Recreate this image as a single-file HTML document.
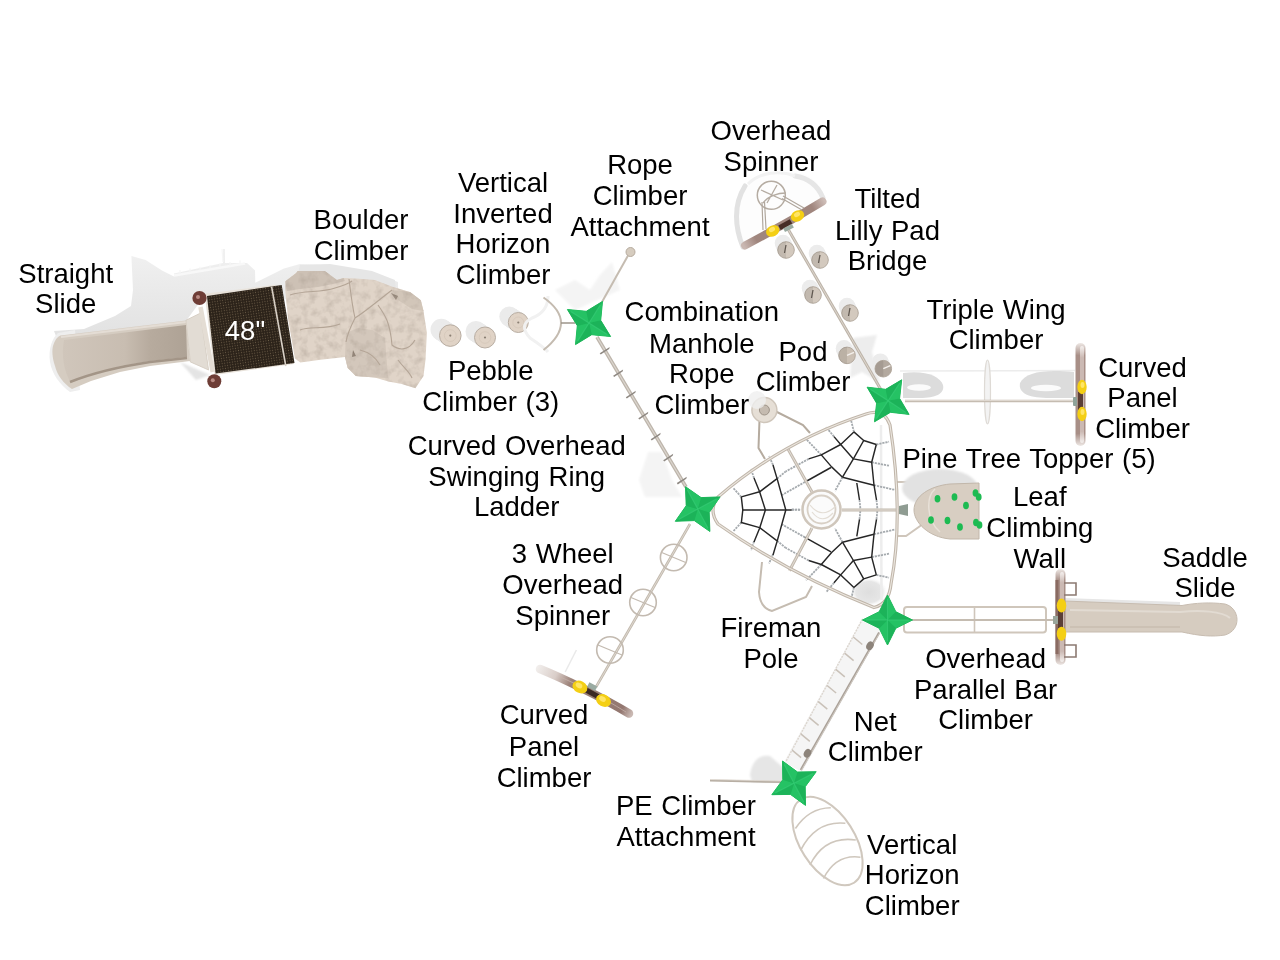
<!DOCTYPE html>
<html><head><meta charset="utf-8"><title>Playground Plan</title>
<style>html,body{margin:0;padding:0;background:#fff;width:1280px;height:960px;overflow:hidden;font-family:"Liberation Sans",sans-serif}svg{display:block;will-change:transform}</style>
</head><body>
<svg width="1280" height="960" viewBox="0 0 1280 960" font-family="Liberation Sans, sans-serif"><defs><linearGradient id="shg" x1="0" y1="0" x2="0" y2="1"><stop offset="0" stop-color="#f1f1f1"/><stop offset="1" stop-color="#e2e2e2"/></linearGradient><linearGradient id="chg" x1="0" y1="0" x2="1" y2="0"><stop offset="0" stop-color="#d0c6bb"/><stop offset="0.5" stop-color="#c8bdb1"/><stop offset="0.7" stop-color="#b7ab9e"/><stop offset="1" stop-color="#aea295"/></linearGradient><linearGradient id="dotg" x1="0" y1="0" x2="1" y2="1"><stop offset="0" stop-color="#2e251b"/><stop offset="0.5" stop-color="#3a2f22"/><stop offset="1" stop-color="#2a2118"/></linearGradient><pattern id="dots" width="2.6" height="2.6" patternUnits="userSpaceOnUse" patternTransform="rotate(-9)"><rect width="2.6" height="2.6" fill="#2b2219"/><circle cx="1.3" cy="1.3" r="0.55" fill="#6b5c47"/></pattern><filter id="sb" x="-20%" y="-20%" width="140%" height="140%"><feGaussianBlur stdDeviation="1.2"/></filter><filter id="stone" x="0" y="0" width="1" height="1"><feTurbulence type="fractalNoise" baseFrequency="0.12" numOctaves="3" seed="4" result="n"/><feColorMatrix in="n" type="matrix" values="0 0 0 0 0.45  0 0 0 0 0.38  0 0 0 0 0.32  0 0 0 -1.3 0.75" result="c"/><feComposite in="c" in2="SourceGraphic" operator="in" result="t"/><feMerge><feMergeNode in="SourceGraphic"/><feMergeNode in="t"/></feMerge></filter></defs><path d="M56,336 L54,331 L84,329 L115,316 L131,306 L133,290 L131.4,256 L145.6,260 L162,270.5 L174,276.6 L174,273.5 L223,263 L223,249 L225,249 L225,263 L247,263 L255,270.5 L255.3,282.7 L284,268.4 L300,264 L330,265 L372,272 L398,282 L398,300 L300,300 L205,295 L186,321 L60,336Z" fill="url(#shg)"/><path d="M174,275.5 L245,263.4" stroke="#f8f8f8" stroke-width="2.5" fill="none"/><path d="M180,274 L180,270 M190,272.5 L190,268.5 M200,270.8 L200,266.8 M210,269 L210,265 M220,267.5 L220,263.5 M230,266 L230,262 M240,264.3 L240,260.3 M223,262 L222,249" stroke="#f6f6f6" stroke-width="1.2" fill="none"/><path d="M180,362 L210,375 L196,380Z" fill="#e4e4e4" filter="url(#sb)"/><path d="M58,333 C52,338 48,350 50,362 C52,374 60,385 70,392 L80,390 L75,330Z" fill="#eeeeee"/><path d="M60.3,335.5 L186,320.4 L190,361 L150,366 L120,372 L91,381 L72,389 C64,384 57,375 55,366 C52,357 52,350 53,346 C55,340 57,337 60.3,335.5Z" fill="#d5ccc1"/><path d="M64,340 L186,325 L187,357 L150,361 L120,366 L91,375 L71,383 C64,372 61,355 64,340Z" fill="url(#chg)"/><path d="M70,382 C85,376 110,368 150,362 L187,358" fill="none" stroke="#a39587" stroke-width="2.5"/><path d="M61,337 L186,322" fill="none" stroke="#e4ddd5" stroke-width="2"/><path d="M186,320.2 L200.5,313.1 L208.6,370 L190.3,361.9Z" fill="#e2dcd4" stroke="#d2c9be" stroke-width="0.8"/><path d="M204.5,293.8 L275.6,284.7 L294,363.9 L214.7,375.1Z" fill="#e8e2da"/><path d="M207,296 L281.7,285 L294.5,363 L215.5,373.5Z" fill="url(#dots)"/><line x1="271.6" y1="286.7" x2="285.8" y2="366" stroke="#d8d0c6" stroke-width="1.6"/><line x1="200.5" y1="307" x2="212.7" y2="372" stroke="#e4ddd4" stroke-width="4.5"/><circle cx="199.5" cy="298" r="7.1" fill="#6e3d36"/><circle cx="198" cy="297" r="2" fill="#b98b83"/><circle cx="214.3" cy="381.2" r="7" fill="#6e3d36"/><circle cx="212.8" cy="380.2" r="2" fill="#b98b83"/><text x="245.0" y="339.6" font-size="27.5" fill="#fff" text-anchor="middle" word-spacing="1">48"</text><path d="M297,278 L300,265 L330,264 L372,271 L395,280 L396,292 L300,292Z" fill="#e6e6e6"/><g filter="url(#stone)"><path d="M285.4,281.2 L296.2,273.1 L297.6,271.1 L324.7,271.1 L336.9,279.9 L343.6,277.9 L355.8,278.5 L374.8,279.9 L392.4,286.7 L410,292 L420.8,300.2 L423.5,311 L426.9,332.7 L425.5,359.8 L423.5,376 L415.4,388.2 L401.8,384.1 L388.3,381.4 L374.8,377.4 L355.8,376 L347.7,367.9 L345,357 L320.6,359.8 L300.3,362.5 L294.9,358.4 L288.1,319.1 L285.4,292Z" fill="#e0d4c8"/><path d="M285.4,281.2 L296.2,273.1 L297.6,271.1 L324.7,271.1 L336.9,279.9 L343.6,277.9 L345,281 L333,284 L318,287 L300,289 L287,291Z" fill="#cdc1b5"/><path d="M346,333 L358,328 L372,330 L385,338 L388,378 L374.8,377.4 L355.8,376 L347.7,367.9 L345,357Z" fill="#d3c7bb"/><path d="M392,290 L410,292 L420.8,300.2 L423.5,311 L412,309 L398,300Z" fill="#d2c6b9"/><path d="M290,295 C305,290 320,293 335,288 C342,286 348,284 352,281 M349,279 C351,295 352,305 355,318 C350,328 347,335 346,342 M355,318 C365,312 375,303 392,290 M378,305 C385,315 390,322 392,345 C398,350 408,352 415,340 M300,330 C310,326 325,330 340,324 M398,360 C403,367 410,372 412,378 M360,350 C368,352 375,356 380,365" fill="none" stroke="#b4a596" stroke-width="1.1"/><path d="M391,293 L398,296 L396,300Z M353,350 L356,356 L352,357Z" fill="#8a7d70"/></g><circle cx="441.3" cy="329.6" r="10.8" fill="#ebebeb"/><circle cx="442.6" cy="330.5" r="10.8" fill="#ebebeb"/><circle cx="443.9" cy="331.3" r="10.8" fill="#ebebeb"/><circle cx="445.2" cy="332.2" r="10.8" fill="#ebebeb"/><circle cx="446.4" cy="333.0" r="10.8" fill="#ebebeb"/><circle cx="447.7" cy="333.9" r="10.8" fill="#ebebeb"/><circle cx="449.0" cy="334.7" r="10.8" fill="#ebebeb"/><circle cx="450.3" cy="335.6" r="10.8" fill="#e0d3c6" stroke="#b8ada2" stroke-width="1"/><circle cx="450.3" cy="335.6" r="5.9" fill="none" stroke="#d4c7b9" stroke-width="0.8"/><circle cx="450.3" cy="335.6" r="1.1" fill="#8a7f73"/><circle cx="476.0" cy="331.5" r="10.5" fill="#ebebeb"/><circle cx="477.3" cy="332.4" r="10.5" fill="#ebebeb"/><circle cx="478.6" cy="333.2" r="10.5" fill="#ebebeb"/><circle cx="479.9" cy="334.1" r="10.5" fill="#ebebeb"/><circle cx="481.1" cy="334.9" r="10.5" fill="#ebebeb"/><circle cx="482.4" cy="335.8" r="10.5" fill="#ebebeb"/><circle cx="483.7" cy="336.6" r="10.5" fill="#ebebeb"/><circle cx="485.0" cy="337.5" r="10.5" fill="#e0d3c6" stroke="#b8ada2" stroke-width="1"/><circle cx="485.0" cy="337.5" r="5.8" fill="none" stroke="#d4c7b9" stroke-width="0.8"/><circle cx="485.0" cy="337.5" r="1.1" fill="#8a7f73"/><circle cx="509.3" cy="316.5" r="10.0" fill="#ebebeb"/><circle cx="510.6" cy="317.4" r="10.0" fill="#ebebeb"/><circle cx="511.9" cy="318.2" r="10.0" fill="#ebebeb"/><circle cx="513.2" cy="319.1" r="10.0" fill="#ebebeb"/><circle cx="514.4" cy="319.9" r="10.0" fill="#ebebeb"/><circle cx="515.7" cy="320.8" r="10.0" fill="#ebebeb"/><circle cx="517.0" cy="321.6" r="10.0" fill="#ebebeb"/><circle cx="518.3" cy="322.5" r="10.0" fill="#e0d3c6" stroke="#b8ada2" stroke-width="1"/><circle cx="518.3" cy="322.5" r="5.5" fill="none" stroke="#d4c7b9" stroke-width="0.8"/><circle cx="518.3" cy="322.5" r="1.1" fill="#8a7f73"/><path d="M548,296 Q548,312 532,318 Q518,325 530,338 Q545,348 548,352" fill="none" stroke="#f1f1f1" stroke-width="3"/><path d="M543.5,297.5 Q578.5,322 543.5,350" fill="none" stroke="#c4bbb0" stroke-width="2"/><path d="M555,290 L575,280 L590,290 L600,275 L612,262 L620,290 L575,310Z" fill="#f4f4f4" filter="url(#sb)"/><line x1="561" y1="323" x2="575" y2="323" stroke="#9d948a" stroke-width="1.5"/><line x1="602" y1="302" x2="630" y2="252" stroke="#c5bcb1" stroke-width="2"/><circle cx="630.5" cy="252" r="4.5" fill="#d6ccbf" stroke="#b5aa9d"/><path d="M648,452 L662,452 L672,480 L682,497 L645,497 L639,480Z" fill="#f4f4f4" filter="url(#sb)"/><line x1="597" y1="337" x2="686" y2="487" stroke="#bdb5ab" stroke-width="3.6"/><line x1="597" y1="337" x2="686" y2="487" stroke="#dcd6cf" stroke-width="1.2"/><path d="M599.7,353.2 L609.7,346.9 L609.2,348.9 L600.7,354.6 Z" fill="#8e8882"/><path d="M613.1,375.8 L623.1,369.4 L622.6,371.4 L614.1,377.1 Z" fill="#8e8882"/><path d="M625.8,397.2 L635.8,390.8 L635.3,392.8 L626.8,398.5 Z" fill="#8e8882"/><path d="M638.3,418.2 L648.3,411.8 L647.8,413.8 L639.3,419.5 Z" fill="#8e8882"/><path d="M650.7,439.2 L660.7,432.8 L660.2,434.8 L651.7,440.5 Z" fill="#8e8882"/><path d="M663.2,460.2 L673.2,453.8 L672.7,455.8 L664.2,461.5 Z" fill="#8e8882"/><path d="M676.8,483.1 L686.8,476.8 L686.3,478.8 L677.8,484.4 Z" fill="#8e8882"/><path d="M742,246 C734,225 734,200 748,184 C760,172 790,168 808,176 C818,182 824,190 824,199" fill="#fdfdfd"/><path d="M743,247 C735,228 733,205 745,186" fill="none" stroke="#e2e2e2" stroke-width="5" stroke-linecap="round"/><path d="M795,176 C808,178 818,186 823,198" fill="none" stroke="#e6e6e6" stroke-width="5" stroke-linecap="round"/><path d="M748,184 C760,172 780,170 795,176" fill="none" stroke="#f2f2f2" stroke-width="3"/><defs><linearGradient id="bandT" gradientUnits="userSpaceOnUse" x1="744" y1="246" x2="824" y2="200"><stop offset="0" stop-color="#c9b7b1"/><stop offset="0.15" stop-color="#a0867e"/><stop offset="0.85" stop-color="#a0867e"/><stop offset="1" stop-color="#cdbcb6"/></linearGradient></defs><path d="M745,245.5 Q784,225 822.5,201.5" fill="none" stroke="url(#bandT)" stroke-width="8" stroke-linecap="round"/><path d="M779.5,227.8 L791,221.4" stroke="#462d26" stroke-width="5"/><circle cx="771.3" cy="195.3" r="14" fill="none" stroke="#b5aca2" stroke-width="1.5"/><path d="M761,190 L783,200 M777,185 L767,203 M763,203 C768,196 778,193 786,193" fill="none" stroke="#b5aca2" stroke-width="1.3"/><path d="M762,202 L763,230 M764.5,202 L766,229 M783,196 L804,208 M782,198.5 L802,210" fill="none" stroke="#b0a79d" stroke-width="1.2"/><ellipse cx="772.7" cy="231" rx="7" ry="5.5" fill="#f4cf14" transform="rotate(-28 772.7 231)"/><ellipse cx="797.5" cy="216" rx="7" ry="5.5" fill="#f4cf14" transform="rotate(-28 797.5 216)"/><ellipse cx="772" cy="229.5" rx="3.2" ry="2.3" fill="#ffe566" transform="rotate(-28 772 229.5)"/><ellipse cx="797" cy="214.5" rx="3.2" ry="2.3" fill="#ffe566" transform="rotate(-28 797 214.5)"/><path d="M853,338 L877,335 L872,352 L880,383 L862,372 L850,378Z" fill="#ededed" filter="url(#sb)"/><circle cx="783.0" cy="243.0" r="8.3" fill="#ececec"/><circle cx="783.6" cy="244.4" r="8.3" fill="#ececec"/><circle cx="784.2" cy="245.8" r="8.3" fill="#ececec"/><circle cx="784.8" cy="247.2" r="8.3" fill="#ececec"/><circle cx="785.4" cy="248.6" r="8.3" fill="#ececec"/><circle cx="786.0" cy="250.0" r="8.3" fill="#d3c9be" stroke="#b3a99e" stroke-width="1"/><path d="M786.0,241.7 A8.3,8.3 0 0,0 786.0,258.3 Z" fill="#000" opacity="0.08"/><line x1="786.0" y1="245.0" x2="784.5" y2="253.0" stroke="#5f574f" stroke-width="1.3"/><circle cx="817.0" cy="253.0" r="8.3" fill="#ececec"/><circle cx="817.6" cy="254.4" r="8.3" fill="#ececec"/><circle cx="818.2" cy="255.8" r="8.3" fill="#ececec"/><circle cx="818.8" cy="257.2" r="8.3" fill="#ececec"/><circle cx="819.4" cy="258.6" r="8.3" fill="#ececec"/><circle cx="820.0" cy="260.0" r="8.3" fill="#d3c9be" stroke="#b3a99e" stroke-width="1"/><path d="M820.0,251.7 A8.3,8.3 0 0,0 820.0,268.3 Z" fill="#000" opacity="0.08"/><line x1="820.0" y1="255.0" x2="818.5" y2="263.0" stroke="#5f574f" stroke-width="1.3"/><circle cx="810.0" cy="288.0" r="8.3" fill="#ececec"/><circle cx="810.6" cy="289.4" r="8.3" fill="#ececec"/><circle cx="811.2" cy="290.8" r="8.3" fill="#ececec"/><circle cx="811.8" cy="292.2" r="8.3" fill="#ececec"/><circle cx="812.4" cy="293.6" r="8.3" fill="#ececec"/><circle cx="813.0" cy="295.0" r="8.3" fill="#d3c9be" stroke="#b3a99e" stroke-width="1"/><path d="M813.0,286.7 A8.3,8.3 0 0,0 813.0,303.3 Z" fill="#000" opacity="0.08"/><line x1="813.0" y1="290.0" x2="811.5" y2="298.0" stroke="#5f574f" stroke-width="1.3"/><circle cx="847.0" cy="306.0" r="8.3" fill="#ececec"/><circle cx="847.6" cy="307.4" r="8.3" fill="#ececec"/><circle cx="848.2" cy="308.8" r="8.3" fill="#ececec"/><circle cx="848.8" cy="310.2" r="8.3" fill="#ececec"/><circle cx="849.4" cy="311.6" r="8.3" fill="#ececec"/><circle cx="850.0" cy="313.0" r="8.3" fill="#d3c9be" stroke="#b3a99e" stroke-width="1"/><path d="M850.0,304.7 A8.3,8.3 0 0,0 850.0,321.3 Z" fill="#000" opacity="0.08"/><line x1="850.0" y1="308.0" x2="848.5" y2="316.0" stroke="#5f574f" stroke-width="1.3"/><circle cx="844.0" cy="348.4" r="8.3" fill="#ececec"/><circle cx="844.6" cy="349.8" r="8.3" fill="#ececec"/><circle cx="845.2" cy="351.2" r="8.3" fill="#ececec"/><circle cx="845.8" cy="352.6" r="8.3" fill="#ececec"/><circle cx="846.4" cy="354.0" r="8.3" fill="#ececec"/><circle cx="847.0" cy="355.4" r="8.3" fill="#cbc0b4" stroke="#b3a99e" stroke-width="1"/><path d="M847.0,347.1 A8.3,8.3 0 0,0 847.0,363.7 Z" fill="#000" opacity="0.08"/><line x1="847.0" y1="355.4" x2="854.0" y2="352.4" stroke="#f4f0ec" stroke-width="1.4"/><circle cx="880.3" cy="361.7" r="8.3" fill="#ececec"/><circle cx="880.9" cy="363.1" r="8.3" fill="#ececec"/><circle cx="881.5" cy="364.5" r="8.3" fill="#ececec"/><circle cx="882.1" cy="365.9" r="8.3" fill="#ececec"/><circle cx="882.7" cy="367.3" r="8.3" fill="#ececec"/><circle cx="883.3" cy="368.7" r="8.3" fill="#b3a99f" stroke="#b3a99e" stroke-width="1"/><path d="M883.3,360.4 A8.3,8.3 0 0,0 883.3,377.0 Z" fill="#000" opacity="0.08"/><line x1="883.3" y1="368.7" x2="890.3" y2="365.7" stroke="#f4f0ec" stroke-width="1.4"/><line x1="788" y1="229" x2="884" y2="395" stroke="#bdb4a9" stroke-width="3"/><line x1="788" y1="229" x2="884" y2="395" stroke="#ddd6cd" stroke-width="1"/><rect x="783.5" y="226" width="10" height="4" fill="#9aaba2" transform="rotate(-28 788.5 228)"/><path d="M900,371 L1075,370.5" stroke="#ececec" stroke-width="1.5"/><path d="M903,373 C925,370 940,376 943,385 C945,394 935,398 920,398 L903,398 Z" fill="#dcdcdc"/><ellipse cx="919" cy="387.5" rx="12" ry="3.3" fill="#fbfbfb"/><path d="M1074,372 C1045,369 1025,372 1020,383 C1018,394 1030,398 1050,398 L1074,398 Z" fill="#dcdcdc"/><ellipse cx="1046" cy="388" rx="15" ry="3.3" fill="#fbfbfb"/><ellipse cx="987.5" cy="392" rx="3" ry="32" fill="#f3f3f3" stroke="#dedad5" stroke-width="1.2"/><line x1="905" y1="401" x2="1078" y2="401" stroke="#c5bcb1" stroke-width="2.5"/><line x1="905" y1="400.5" x2="1078" y2="400.5" stroke="#e6e0d8" stroke-width="0.8"/><defs><linearGradient id="pnl" x1="0" y1="0" x2="0" y2="1"><stop offset="0" stop-color="#eee8e5"/><stop offset="0.12" stop-color="#a88f87"/><stop offset="0.88" stop-color="#a88f87"/><stop offset="1" stop-color="#eee8e5"/></linearGradient><linearGradient id="pnl2" x1="0" y1="0" x2="0" y2="1"><stop offset="0" stop-color="#f4f0ee"/><stop offset="0.12" stop-color="#cbb9b3"/><stop offset="0.88" stop-color="#cbb9b3"/><stop offset="1" stop-color="#f4f0ee"/></linearGradient></defs><rect x="1075.5" y="343" width="10" height="103" rx="5" fill="url(#pnl)"/><rect x="1080" y="346" width="4" height="97" rx="2" fill="url(#pnl2)"/><rect x="1078" y="392" width="5" height="18" fill="#5b3f37"/><ellipse cx="1082" cy="387" rx="4.7" ry="7.2" fill="#f4cf14"/><ellipse cx="1082" cy="414" rx="4.7" ry="7.2" fill="#f4cf14"/><ellipse cx="1082.5" cy="385" rx="2" ry="3" fill="#ffe566"/><ellipse cx="1082.5" cy="412" rx="2" ry="3" fill="#ffe566"/><rect x="1073" y="397" width="4" height="9" rx="1" fill="#8fa39a"/><defs><radialGradient id="blob"><stop offset="0" stop-color="#dedede"/><stop offset="0.7" stop-color="#e6e6e6"/><stop offset="1" stop-color="#ffffff" stop-opacity="0"/></radialGradient></defs><ellipse cx="869" cy="592" rx="19" ry="15" fill="url(#blob)"/><line x1="881" y1="425" x2="881.5" y2="600" stroke="#ededed" stroke-width="2.5"/><path d="M760,406 L758.5,448 L765,459 M767,407 L803,425 L810,433" fill="none" stroke="#b5ab9f" stroke-width="2"/><circle cx="764.4" cy="410" r="12.5" fill="#e6dfd6" stroke="#cfc6bb" stroke-width="1.5"/><circle cx="764.4" cy="410" r="5" fill="#c5bbb0" stroke="#9d9388" stroke-width="1"/><circle cx="757" cy="400" r="9" fill="#efefef" opacity="0.8"/><path d="M762,562 L759,592 Q760,608 772,611 L806,597 L812,586" fill="none" stroke="#c5bcb1" stroke-width="2"/><path d="M897,482 L912,482 L940,507 M897,536 L906,536 L940,512" fill="none" stroke="#cfc6bb" stroke-width="2"/><path d="M853.9,431.9 L851.0,419.9" fill="none" stroke="#a5aaae" stroke-width="1.8" stroke-dasharray="2.2 0.9" stroke-linejoin="round"/><path d="M876.3,444.5 L889.0,441.7" fill="none" stroke="#a5aaae" stroke-width="1.8" stroke-dasharray="2.2 0.9" stroke-linejoin="round"/><path d="M871.7,462.3 L889.0,465.7" fill="none" stroke="#a5aaae" stroke-width="1.8" stroke-dasharray="2.2 0.9" stroke-linejoin="round"/><path d="M834.0,436.6 L826.0,427.0" fill="none" stroke="#a5aaae" stroke-width="1.8" stroke-dasharray="2.2 0.9" stroke-linejoin="round"/><path d="M821.3,454.9 L806.0,439.0" fill="none" stroke="#a5aaae" stroke-width="1.8" stroke-dasharray="2.2 0.9" stroke-linejoin="round"/><path d="M808.7,458.9 L785.7,471.5" fill="none" stroke="#a5aaae" stroke-width="1.8" stroke-dasharray="2.2 0.9" stroke-linejoin="round"/><path d="M842.5,477.2 L835.0,491.0" fill="none" stroke="#a5aaae" stroke-width="1.8" stroke-dasharray="2.2 0.9" stroke-linejoin="round"/><path d="M805.0,482.0 L782.0,495.0" fill="none" stroke="#a5aaae" stroke-width="1.8" stroke-dasharray="2.2 0.9" stroke-linejoin="round"/><path d="M874.0,485.2 L894.6,489.8" fill="none" stroke="#a5aaae" stroke-width="1.8" stroke-dasharray="2.2 0.9" stroke-linejoin="round"/><path d="M859.5,500.0 L860.5,510.0" fill="none" stroke="#a5aaae" stroke-width="1.8" stroke-dasharray="2.2 0.9" stroke-linejoin="round"/><path d="M876.5,500.0 L877.5,510.0" fill="none" stroke="#a5aaae" stroke-width="1.8" stroke-dasharray="2.2 0.9" stroke-linejoin="round"/><path d="M853.9,587.5 L851.0,599.5" fill="none" stroke="#a5aaae" stroke-width="1.8" stroke-dasharray="2.2 0.9" stroke-linejoin="round"/><path d="M876.3,574.9 L889.0,577.7" fill="none" stroke="#a5aaae" stroke-width="1.8" stroke-dasharray="2.2 0.9" stroke-linejoin="round"/><path d="M871.7,557.1 L889.0,553.7" fill="none" stroke="#a5aaae" stroke-width="1.8" stroke-dasharray="2.2 0.9" stroke-linejoin="round"/><path d="M834.0,582.8 L826.0,592.4" fill="none" stroke="#a5aaae" stroke-width="1.8" stroke-dasharray="2.2 0.9" stroke-linejoin="round"/><path d="M821.3,564.5 L806.0,580.4" fill="none" stroke="#a5aaae" stroke-width="1.8" stroke-dasharray="2.2 0.9" stroke-linejoin="round"/><path d="M808.7,560.5 L785.7,547.9" fill="none" stroke="#a5aaae" stroke-width="1.8" stroke-dasharray="2.2 0.9" stroke-linejoin="round"/><path d="M842.5,542.2 L835.0,528.4" fill="none" stroke="#a5aaae" stroke-width="1.8" stroke-dasharray="2.2 0.9" stroke-linejoin="round"/><path d="M805.0,537.4 L782.0,524.4" fill="none" stroke="#a5aaae" stroke-width="1.8" stroke-dasharray="2.2 0.9" stroke-linejoin="round"/><path d="M874.0,534.2 L894.6,529.6" fill="none" stroke="#a5aaae" stroke-width="1.8" stroke-dasharray="2.2 0.9" stroke-linejoin="round"/><path d="M859.5,519.4 L860.5,509.4" fill="none" stroke="#a5aaae" stroke-width="1.8" stroke-dasharray="2.2 0.9" stroke-linejoin="round"/><path d="M876.5,519.4 L877.5,509.4" fill="none" stroke="#a5aaae" stroke-width="1.8" stroke-dasharray="2.2 0.9" stroke-linejoin="round"/><path d="M791.7,510.0 L801.0,509.5" fill="none" stroke="#a5aaae" stroke-width="1.8" stroke-dasharray="2.2 0.9" stroke-linejoin="round"/><path d="M741.3,496.9 L733.3,488.1" fill="none" stroke="#a5aaae" stroke-width="1.8" stroke-dasharray="2.2 0.9" stroke-linejoin="round"/><path d="M754.0,478.0 L751.0,469.0" fill="none" stroke="#a5aaae" stroke-width="1.8" stroke-dasharray="2.2 0.9" stroke-linejoin="round"/><path d="M773.0,465.0 L769.0,456.0" fill="none" stroke="#a5aaae" stroke-width="1.8" stroke-dasharray="2.2 0.9" stroke-linejoin="round"/><path d="M777.1,478.6 L785.7,471.5" fill="none" stroke="#a5aaae" stroke-width="1.8" stroke-dasharray="2.2 0.9" stroke-linejoin="round"/><path d="M791.7,509.4 L801.0,509.9" fill="none" stroke="#a5aaae" stroke-width="1.8" stroke-dasharray="2.2 0.9" stroke-linejoin="round"/><path d="M741.3,522.5 L733.3,531.3" fill="none" stroke="#a5aaae" stroke-width="1.8" stroke-dasharray="2.2 0.9" stroke-linejoin="round"/><path d="M754.0,541.4 L751.0,550.4" fill="none" stroke="#a5aaae" stroke-width="1.8" stroke-dasharray="2.2 0.9" stroke-linejoin="round"/><path d="M773.0,554.4 L769.0,563.4" fill="none" stroke="#a5aaae" stroke-width="1.8" stroke-dasharray="2.2 0.9" stroke-linejoin="round"/><path d="M777.1,540.8 L785.7,547.9" fill="none" stroke="#a5aaae" stroke-width="1.8" stroke-dasharray="2.2 0.9" stroke-linejoin="round"/><path d="M853.9,431.9 L863.7,440.5 L876.3,444.5" fill="none" stroke="#262626" stroke-width="1.45" stroke-linejoin="round"/><path d="M853.9,431.9 L840.7,444.5 L821.3,454.9 L808.7,458.9" fill="none" stroke="#262626" stroke-width="1.45" stroke-linejoin="round"/><path d="M863.7,440.5 L853.4,458.9 L842.5,477.2" fill="none" stroke="#262626" stroke-width="1.45" stroke-linejoin="round"/><path d="M834.0,436.6 L840.7,444.5 L853.4,458.9 L871.7,462.3" fill="none" stroke="#262626" stroke-width="1.45" stroke-linejoin="round"/><path d="M876.3,444.5 L871.7,462.3 L874.0,485.2 L876.5,500.0" fill="none" stroke="#262626" stroke-width="1.45" stroke-linejoin="round"/><path d="M842.5,477.2 L874.0,485.2" fill="none" stroke="#262626" stroke-width="1.45" stroke-linejoin="round"/><path d="M821.3,454.9 L831.6,466.9 L842.5,477.2" fill="none" stroke="#262626" stroke-width="1.45" stroke-linejoin="round"/><path d="M831.0,467.5 L805.0,482.0" fill="none" stroke="#262626" stroke-width="1.45" stroke-linejoin="round"/><path d="M856.8,483.0 L859.5,500.0" fill="none" stroke="#262626" stroke-width="1.45" stroke-linejoin="round"/><path d="M853.9,587.5 L863.7,578.9 L876.3,574.9" fill="none" stroke="#262626" stroke-width="1.45" stroke-linejoin="round"/><path d="M853.9,587.5 L840.7,574.9 L821.3,564.5 L808.7,560.5" fill="none" stroke="#262626" stroke-width="1.45" stroke-linejoin="round"/><path d="M863.7,578.9 L853.4,560.5 L842.5,542.2" fill="none" stroke="#262626" stroke-width="1.45" stroke-linejoin="round"/><path d="M834.0,582.8 L840.7,574.9 L853.4,560.5 L871.7,557.1" fill="none" stroke="#262626" stroke-width="1.45" stroke-linejoin="round"/><path d="M876.3,574.9 L871.7,557.1 L874.0,534.2 L876.5,519.4" fill="none" stroke="#262626" stroke-width="1.45" stroke-linejoin="round"/><path d="M842.5,542.2 L874.0,534.2" fill="none" stroke="#262626" stroke-width="1.45" stroke-linejoin="round"/><path d="M821.3,564.5 L831.6,552.5 L842.5,542.2" fill="none" stroke="#262626" stroke-width="1.45" stroke-linejoin="round"/><path d="M831.0,551.9 L805.0,537.4" fill="none" stroke="#262626" stroke-width="1.45" stroke-linejoin="round"/><path d="M856.8,536.4 L859.5,519.4" fill="none" stroke="#262626" stroke-width="1.45" stroke-linejoin="round"/><path d="M742.8,510.0 L791.7,510.0" fill="none" stroke="#262626" stroke-width="1.45" stroke-linejoin="round"/><path d="M741.3,496.9 L742.8,510.0 L741.3,523.1" fill="none" stroke="#262626" stroke-width="1.45" stroke-linejoin="round"/><path d="M741.3,496.9 L759.6,491.8 L777.1,478.6" fill="none" stroke="#262626" stroke-width="1.45" stroke-linejoin="round"/><path d="M754.0,478.0 L759.6,491.8 L765.4,510.0 L759.6,528.2 L754.0,542.0" fill="none" stroke="#262626" stroke-width="1.45" stroke-linejoin="round"/><path d="M773.0,465.0 L777.1,478.6 L785.8,510.0 L777.1,541.4 L773.0,555.0" fill="none" stroke="#262626" stroke-width="1.45" stroke-linejoin="round"/><path d="M741.3,522.5 L759.6,527.6 L777.1,540.8" fill="none" stroke="#262626" stroke-width="1.45" stroke-linejoin="round"/><line x1="788.0" y1="449.0" x2="812.0" y2="492.0" stroke="#c2b9ae" stroke-width="3"/><line x1="788.0" y1="449.0" x2="812.0" y2="492.0" stroke="#e4ded6" stroke-width="1"/><line x1="897.0" y1="510.0" x2="842.0" y2="510.0" stroke="#c2b9ae" stroke-width="3"/><line x1="897.0" y1="510.0" x2="842.0" y2="510.0" stroke="#e4ded6" stroke-width="1"/><line x1="789.4" y1="570.8" x2="812.0" y2="528.0" stroke="#c2b9ae" stroke-width="3"/><line x1="789.4" y1="570.8" x2="812.0" y2="528.0" stroke="#e4ded6" stroke-width="1"/><circle cx="821.5" cy="509.5" r="19" fill="#fbfbfb" stroke="#cfc6bb" stroke-width="2.5"/><circle cx="821.5" cy="509.5" r="14" fill="none" stroke="#d8d0c6" stroke-width="1.8"/><path d="M810,505 Q822,520 836,506 M812,512 Q822,525 833,513" fill="none" stroke="#e3ddd5" stroke-width="1.2"/><path d="M718,497 Q783,441 866,414 Q884,408 890,425 Q904,515.5 891,584 Q889,604 874,607.5 Q787,573 718,524 Q708,510 718,497 Z" fill="none" stroke="#c0b6aa" stroke-width="3.2"/><path d="M718,497 Q783,441 866,414 Q884,408 890,425 Q904,515.5 891,584 Q889,604 874,607.5 Q787,573 718,524 Q708,510 718,497 Z" fill="none" stroke="#ece7e0" stroke-width="1.1"/><path d="M899,506 L908,504 L908,516 L899,514Z" fill="#8f9c92"/><ellipse cx="940" cy="488" rx="38" ry="19" fill="#e2e2e2" filter="url(#sb)"/><path d="M979,483 L979,539 L950,539 C928,537 914,522 914,510 C914,496 930,486 950,484Z" fill="#d8cec2" stroke="#c2b7aa" stroke-width="1"/><path d="M935,489 C926,497 926,520 940,532" fill="none" stroke="#e8e1d8" stroke-width="1.5"/><ellipse cx="937.5" cy="498.8" rx="2.9" ry="3.8" fill="#1dbb52"/><ellipse cx="954.5" cy="497.0" rx="2.9" ry="3.8" fill="#1dbb52"/><ellipse cx="975.5" cy="493.0" rx="2.9" ry="3.8" fill="#1dbb52"/><ellipse cx="978.7" cy="497.0" rx="2.9" ry="3.8" fill="#1dbb52"/><ellipse cx="966.0" cy="505.5" rx="2.9" ry="3.8" fill="#1dbb52"/><ellipse cx="931.0" cy="520.0" rx="2.9" ry="3.8" fill="#1dbb52"/><ellipse cx="947.5" cy="520.5" rx="2.9" ry="3.8" fill="#1dbb52"/><ellipse cx="960.0" cy="527.0" rx="2.9" ry="3.8" fill="#1dbb52"/><ellipse cx="976.0" cy="522.5" rx="2.9" ry="3.8" fill="#1dbb52"/><ellipse cx="979.5" cy="525.0" rx="2.9" ry="3.8" fill="#1dbb52"/><rect x="904" y="607" width="142" height="25.5" rx="3" fill="none" stroke="#cfc6bb" stroke-width="2"/><line x1="974.5" y1="607" x2="974.5" y2="632.5" stroke="#cfc6bb" stroke-width="1.6"/><line x1="905" y1="620" x2="1058" y2="620" stroke="#c5bcb1" stroke-width="2"/><path d="M1064,598 L1180,602 L1180,606 L1064,603Z" fill="#e6e6e6"/><path d="M1064,601 L1182,605.5 C1195,603 1210,602 1225,604 C1240,608 1242,630 1225,635 C1212,637 1200,636 1182,632 L1064,632Z" fill="#d6ccc0" stroke="#c7bcb0" stroke-width="1"/><path d="M1070,610 L1180,612 C1200,610 1222,611 1230,618" fill="none" stroke="#e2dbd2" stroke-width="2"/><path d="M1070,627 L1180,627" fill="none" stroke="#c9beb1" stroke-width="1.5"/><rect x="1055.5" y="569" width="10" height="96" rx="5" fill="url(#pnl)"/><rect x="1055.5" y="580" width="3" height="74" fill="#8a6b62"/><rect x="1060" y="572" width="4" height="90" rx="2" fill="url(#pnl2)"/><rect x="1058" y="610" width="5" height="18" fill="#5b3f37"/><path d="M1064,583 L1076,583 L1076,595 L1064,595 M1064,645 L1076,645 L1076,657 L1064,657" fill="none" stroke="#8c7a72" stroke-width="1.6"/><ellipse cx="1061.5" cy="605.6" rx="4.8" ry="7" fill="#f4cf14"/><ellipse cx="1061.5" cy="633.7" rx="4.8" ry="7" fill="#f4cf14"/><rect x="1053" y="616" width="5" height="8" fill="#9aa69c"/><path d="M862.5,618 L882,630 L802,772 L784,762Z" fill="#f5f5f5"/><line x1="862.5" y1="619" x2="785.8" y2="761.7" stroke="#dcd6cf" stroke-width="1.4" stroke-dasharray="2 1"/><line x1="853.3" y1="637.0" x2="862.3" y2="644.5" stroke="#c9c1b8" stroke-width="1.5"/><line x1="844.6" y1="653.2" x2="853.6" y2="660.7" stroke="#c9c1b8" stroke-width="1.5"/><line x1="835.8" y1="669.3" x2="844.8" y2="676.8" stroke="#c9c1b8" stroke-width="1.5"/><line x1="827.1" y1="685.5" x2="836.1" y2="693.0" stroke="#c9c1b8" stroke-width="1.5"/><line x1="818.3" y1="701.6" x2="827.3" y2="709.1" stroke="#c9c1b8" stroke-width="1.5"/><line x1="809.6" y1="717.8" x2="818.6" y2="725.3" stroke="#c9c1b8" stroke-width="1.5"/><line x1="800.8" y1="733.9" x2="809.8" y2="741.4" stroke="#c9c1b8" stroke-width="1.5"/><line x1="792.1" y1="750.1" x2="801.1" y2="757.6" stroke="#c9c1b8" stroke-width="1.5"/><line x1="879.2" y1="632.5" x2="800.8" y2="770" stroke="#aaa198" stroke-width="2.3"/><line x1="879.6" y1="633" x2="801.2" y2="770.5" stroke="#ddd7d0" stroke-width="0.7"/><ellipse cx="870" cy="645.8" rx="3.5" ry="4.5" fill="#8d847b" transform="rotate(30 870 645.8)"/><ellipse cx="807.5" cy="753.3" rx="3.5" ry="4.5" fill="#8d847b" transform="rotate(30 807.5 753.3)"/><path d="M750,775 C752,760 760,754 770,756 L786,770 L786,782 L752,782Z" fill="#e6e6e6" filter="url(#sb)"/><line x1="710" y1="780.5" x2="782" y2="782" stroke="#b8afa4" stroke-width="2.2"/><line x1="710" y1="779.5" x2="782" y2="781" stroke="#e2dcd4" stroke-width="0.8"/><line x1="690" y1="524" x2="596" y2="687" stroke="#c2b9ae" stroke-width="2.6"/><line x1="690" y1="524" x2="596" y2="687" stroke="#e5dfd7" stroke-width="0.8"/><circle cx="673.7" cy="557.5" r="13.3" fill="none" stroke="#c3bab0" stroke-width="1.6"/><line x1="661.7" y1="552.5" x2="685.7" y2="562.5" stroke="#c3bab0" stroke-width="1.3"/><circle cx="643.0" cy="602.5" r="13.3" fill="none" stroke="#c3bab0" stroke-width="1.6"/><line x1="631.0" y1="597.5" x2="655.0" y2="607.5" stroke="#c3bab0" stroke-width="1.3"/><circle cx="610.0" cy="650.0" r="13.3" fill="none" stroke="#c3bab0" stroke-width="1.6"/><line x1="598.0" y1="645.0" x2="622.0" y2="655.0" stroke="#c3bab0" stroke-width="1.3"/><defs><linearGradient id="bandL" gradientUnits="userSpaceOnUse" x1="536" y1="668" x2="631" y2="715"><stop offset="0" stop-color="#f2efed"/><stop offset="0.2" stop-color="#d9cdc8"/><stop offset="0.35" stop-color="#9d837a"/><stop offset="0.9" stop-color="#937770"/><stop offset="1" stop-color="#c9b8b2"/></linearGradient></defs><path d="M540,669 C562,678 600,696 629,713.5" fill="none" stroke="url(#bandL)" stroke-width="8.5" stroke-linecap="round"/><path d="M560,677 C575,683 600,696 626,712" fill="none" stroke="#c7b4ad" stroke-width="1" opacity="0.7"/><path d="M586,690 L598,696.5" stroke="#3b2823" stroke-width="5"/><ellipse cx="580" cy="687" rx="7.8" ry="6" fill="#f4cf14" transform="rotate(28 580 687)"/><ellipse cx="603.5" cy="700.5" rx="7.8" ry="6" fill="#f4cf14" transform="rotate(28 603.5 700.5)"/><ellipse cx="579" cy="685.5" rx="3.5" ry="2.5" fill="#ffe566" transform="rotate(28 579 685.5)"/><ellipse cx="602.5" cy="699" rx="3.5" ry="2.5" fill="#ffe566" transform="rotate(28 602.5 699)"/><rect x="588" y="684" width="9" height="5" fill="#9aaba2" transform="rotate(28 592 686)"/><line x1="576.4" y1="650" x2="565.2" y2="672" stroke="#e9e9e9" stroke-width="1.5"/><ellipse cx="827.5" cy="841" rx="27.2" ry="49.5" fill="#ffffff" stroke="#d0c8be" stroke-width="2" transform="rotate(-32.5 827.5 841)"/><path d="M795.4,828.5 Q808.9,807.9 830.8,807.7" fill="none" stroke="#cfc7bd" stroke-width="1.6"/><path d="M800.6,850.4 Q815.8,820.2 845.4,823.3" fill="none" stroke="#cfc7bd" stroke-width="1.6"/><path d="M810.0,865.0 Q824.6,835.5 855.8,840.0" fill="none" stroke="#cfc7bd" stroke-width="1.6"/><path d="M823.5,878.5 Q836.0,853.8 860.5,857.2" fill="none" stroke="#cfc7bd" stroke-width="1.6"/><path d="M610.6,336.5 L591.7,334.7 L575.5,344.6 L577.3,325.7 L567.4,309.5 L586.3,311.3 L602.5,301.4 L600.7,320.3 L610.6,336.5Z" fill="#1fb85c" stroke="#22b95c" stroke-width="1" stroke-linejoin="round"/><path d="M589.0,323.0 L610.6,336.5 L591.7,334.7 Z" fill="#25c264"/><path d="M589.0,323.0 L610.6,336.5 L600.7,320.3 Z" fill="#1cb359"/><path d="M589.0,323.0 L575.5,344.6 L577.3,325.7 Z" fill="#25c264"/><path d="M589.0,323.0 L575.5,344.6 L591.7,334.7 Z" fill="#1cb359"/><path d="M589.0,323.0 L567.4,309.5 L586.3,311.3 Z" fill="#25c264"/><path d="M589.0,323.0 L567.4,309.5 L577.3,325.7 Z" fill="#1cb359"/><path d="M589.0,323.0 L602.5,301.4 L600.7,320.3 Z" fill="#25c264"/><path d="M589.0,323.0 L602.5,301.4 L586.3,311.3 Z" fill="#1cb359"/><line x1="589.0" y1="323.0" x2="607.4" y2="334.5" stroke="#3fd27f" stroke-width="1.1" opacity="0.55"/><line x1="589.0" y1="323.0" x2="577.5" y2="341.4" stroke="#3fd27f" stroke-width="1.1" opacity="0.55"/><line x1="589.0" y1="323.0" x2="570.6" y2="311.5" stroke="#3fd27f" stroke-width="1.1" opacity="0.55"/><line x1="589.0" y1="323.0" x2="600.5" y2="304.6" stroke="#3fd27f" stroke-width="1.1" opacity="0.55"/><path d="M909.1,414.4 L890.5,412.3 L874.5,421.8 L876.6,403.2 L867.1,387.2 L885.7,389.3 L901.7,379.8 L899.6,398.4 L909.1,414.4Z" fill="#1fb85c" stroke="#22b95c" stroke-width="1" stroke-linejoin="round"/><path d="M888.1,400.8 L909.1,414.4 L890.5,412.3 Z" fill="#25c264"/><path d="M888.1,400.8 L909.1,414.4 L899.6,398.4 Z" fill="#1cb359"/><path d="M888.1,400.8 L874.5,421.8 L876.6,403.2 Z" fill="#25c264"/><path d="M888.1,400.8 L874.5,421.8 L890.5,412.3 Z" fill="#1cb359"/><path d="M888.1,400.8 L867.1,387.2 L885.7,389.3 Z" fill="#25c264"/><path d="M888.1,400.8 L867.1,387.2 L876.6,403.2 Z" fill="#1cb359"/><path d="M888.1,400.8 L901.7,379.8 L899.6,398.4 Z" fill="#25c264"/><path d="M888.1,400.8 L901.7,379.8 L885.7,389.3 Z" fill="#1cb359"/><line x1="888.1" y1="400.8" x2="905.9" y2="412.4" stroke="#3fd27f" stroke-width="1.1" opacity="0.55"/><line x1="888.1" y1="400.8" x2="876.5" y2="418.6" stroke="#3fd27f" stroke-width="1.1" opacity="0.55"/><line x1="888.1" y1="400.8" x2="870.3" y2="389.2" stroke="#3fd27f" stroke-width="1.1" opacity="0.55"/><line x1="888.1" y1="400.8" x2="899.7" y2="383.0" stroke="#3fd27f" stroke-width="1.1" opacity="0.55"/><path d="M720.1,496.9 L709.2,512.5 L709.9,531.5 L694.3,520.6 L675.3,521.3 L686.2,505.7 L685.5,486.7 L701.1,497.6 L720.1,496.9Z" fill="#1fb85c" stroke="#22b95c" stroke-width="1" stroke-linejoin="round"/><path d="M697.7,509.1 L720.1,496.9 L709.2,512.5 Z" fill="#25c264"/><path d="M697.7,509.1 L720.1,496.9 L701.1,497.6 Z" fill="#1cb359"/><path d="M697.7,509.1 L709.9,531.5 L694.3,520.6 Z" fill="#25c264"/><path d="M697.7,509.1 L709.9,531.5 L709.2,512.5 Z" fill="#1cb359"/><path d="M697.7,509.1 L675.3,521.3 L686.2,505.7 Z" fill="#25c264"/><path d="M697.7,509.1 L675.3,521.3 L694.3,520.6 Z" fill="#1cb359"/><path d="M697.7,509.1 L685.5,486.7 L701.1,497.6 Z" fill="#25c264"/><path d="M697.7,509.1 L685.5,486.7 L686.2,505.7 Z" fill="#1cb359"/><line x1="697.7" y1="509.1" x2="716.7" y2="498.8" stroke="#3fd27f" stroke-width="1.1" opacity="0.55"/><line x1="697.7" y1="509.1" x2="708.0" y2="528.1" stroke="#3fd27f" stroke-width="1.1" opacity="0.55"/><line x1="697.7" y1="509.1" x2="678.7" y2="519.4" stroke="#3fd27f" stroke-width="1.1" opacity="0.55"/><line x1="697.7" y1="509.1" x2="687.4" y2="490.1" stroke="#3fd27f" stroke-width="1.1" opacity="0.55"/><path d="M912.5,620.0 L895.8,628.3 L887.5,645.0 L879.2,628.3 L862.5,620.0 L879.2,611.7 L887.5,595.0 L895.8,611.7 L912.5,620.0Z" fill="#1fb85c" stroke="#22b95c" stroke-width="1" stroke-linejoin="round"/><path d="M887.5,620.0 L912.5,620.0 L895.8,628.3 Z" fill="#25c264"/><path d="M887.5,620.0 L912.5,620.0 L895.8,611.7 Z" fill="#1cb359"/><path d="M887.5,620.0 L887.5,645.0 L879.2,628.3 Z" fill="#25c264"/><path d="M887.5,620.0 L887.5,645.0 L895.8,628.3 Z" fill="#1cb359"/><path d="M887.5,620.0 L862.5,620.0 L879.2,611.7 Z" fill="#25c264"/><path d="M887.5,620.0 L862.5,620.0 L879.2,628.3 Z" fill="#1cb359"/><path d="M887.5,620.0 L887.5,595.0 L895.8,611.7 Z" fill="#25c264"/><path d="M887.5,620.0 L887.5,595.0 L879.2,611.7 Z" fill="#1cb359"/><line x1="887.5" y1="620.0" x2="908.8" y2="620.0" stroke="#3fd27f" stroke-width="1.1" opacity="0.55"/><line x1="887.5" y1="620.0" x2="887.5" y2="641.2" stroke="#3fd27f" stroke-width="1.1" opacity="0.55"/><line x1="887.5" y1="620.0" x2="866.2" y2="620.0" stroke="#3fd27f" stroke-width="1.1" opacity="0.55"/><line x1="887.5" y1="620.0" x2="887.5" y2="598.8" stroke="#3fd27f" stroke-width="1.1" opacity="0.55"/><path d="M816.2,771.7 L805.2,786.7 L805.5,805.4 L790.5,794.4 L771.8,794.7 L782.8,779.7 L782.5,761.0 L797.5,772.0 L816.2,771.7Z" fill="#1fb85c" stroke="#22b95c" stroke-width="1" stroke-linejoin="round"/><path d="M794.0,783.2 L816.2,771.7 L805.2,786.7 Z" fill="#25c264"/><path d="M794.0,783.2 L816.2,771.7 L797.5,772.0 Z" fill="#1cb359"/><path d="M794.0,783.2 L805.5,805.4 L790.5,794.4 Z" fill="#25c264"/><path d="M794.0,783.2 L805.5,805.4 L805.2,786.7 Z" fill="#1cb359"/><path d="M794.0,783.2 L771.8,794.7 L782.8,779.7 Z" fill="#25c264"/><path d="M794.0,783.2 L771.8,794.7 L790.5,794.4 Z" fill="#1cb359"/><path d="M794.0,783.2 L782.5,761.0 L797.5,772.0 Z" fill="#25c264"/><path d="M794.0,783.2 L782.5,761.0 L782.8,779.7 Z" fill="#1cb359"/><line x1="794.0" y1="783.2" x2="812.8" y2="773.4" stroke="#3fd27f" stroke-width="1.1" opacity="0.55"/><line x1="794.0" y1="783.2" x2="803.8" y2="802.0" stroke="#3fd27f" stroke-width="1.1" opacity="0.55"/><line x1="794.0" y1="783.2" x2="775.2" y2="793.0" stroke="#3fd27f" stroke-width="1.1" opacity="0.55"/><line x1="794.0" y1="783.2" x2="784.2" y2="764.4" stroke="#3fd27f" stroke-width="1.1" opacity="0.55"/><text x="65.7" y="282.8" font-size="27.5" fill="#000" text-anchor="middle" word-spacing="1">Straight</text><text x="65.7" y="313.1" font-size="27.5" fill="#000" text-anchor="middle" word-spacing="1">Slide</text><text x="361.0" y="228.8" font-size="27.5" fill="#000" text-anchor="middle" word-spacing="1">Boulder</text><text x="361.0" y="259.8" font-size="27.5" fill="#000" text-anchor="middle" word-spacing="1">Climber</text><text x="503.0" y="191.8" font-size="27.5" fill="#000" text-anchor="middle" word-spacing="1">Vertical</text><text x="503.0" y="222.5" font-size="27.5" fill="#000" text-anchor="middle" word-spacing="1">Inverted</text><text x="503.0" y="253.1" font-size="27.5" fill="#000" text-anchor="middle" word-spacing="1">Horizon</text><text x="503.0" y="283.6" font-size="27.5" fill="#000" text-anchor="middle" word-spacing="1">Climber</text><text x="640.0" y="174.0" font-size="27.5" fill="#000" text-anchor="middle" word-spacing="1">Rope</text><text x="640.0" y="204.8" font-size="27.5" fill="#000" text-anchor="middle" word-spacing="1">Climber</text><text x="640.0" y="235.6" font-size="27.5" fill="#000" text-anchor="middle" word-spacing="1">Attachment</text><text x="771.0" y="139.9" font-size="27.5" fill="#000" text-anchor="middle" word-spacing="1">Overhead</text><text x="771.0" y="170.7" font-size="27.5" fill="#000" text-anchor="middle" word-spacing="1">Spinner</text><text x="887.5" y="208.2" font-size="27.5" fill="#000" text-anchor="middle" word-spacing="1">Tilted</text><text x="887.5" y="239.5" font-size="27.5" fill="#000" text-anchor="middle" word-spacing="1">Lilly Pad</text><text x="887.5" y="270.2" font-size="27.5" fill="#000" text-anchor="middle" word-spacing="1">Bridge</text><text x="996.0" y="319.0" font-size="27.5" fill="#000" text-anchor="middle" word-spacing="1">Triple Wing</text><text x="996.0" y="348.7" font-size="27.5" fill="#000" text-anchor="middle" word-spacing="1">Climber</text><text x="1142.5" y="377.0" font-size="27.5" fill="#000" text-anchor="middle" word-spacing="1">Curved</text><text x="1142.5" y="406.8" font-size="27.5" fill="#000" text-anchor="middle" word-spacing="1">Panel</text><text x="1142.5" y="437.5" font-size="27.5" fill="#000" text-anchor="middle" word-spacing="1">Climber</text><text x="490.7" y="379.8" font-size="27.5" fill="#000" text-anchor="middle" word-spacing="1">Pebble</text><text x="490.7" y="410.6" font-size="27.5" fill="#000" text-anchor="middle" word-spacing="1">Climber (3)</text><text x="701.8" y="321.2" font-size="27.5" fill="#000" text-anchor="middle" word-spacing="1">Combination</text><text x="701.8" y="352.5" font-size="27.5" fill="#000" text-anchor="middle" word-spacing="1">Manhole</text><text x="701.8" y="383.3" font-size="27.5" fill="#000" text-anchor="middle" word-spacing="1">Rope</text><text x="701.8" y="413.6" font-size="27.5" fill="#000" text-anchor="middle" word-spacing="1">Climber</text><text x="803.0" y="360.9" font-size="27.5" fill="#000" text-anchor="middle" word-spacing="1">Pod</text><text x="803.0" y="391.3" font-size="27.5" fill="#000" text-anchor="middle" word-spacing="1">Climber</text><text x="1029.0" y="468.3" font-size="27.5" fill="#000" text-anchor="middle" word-spacing="1">Pine Tree Topper (5)</text><text x="1039.8" y="505.9" font-size="27.5" fill="#000" text-anchor="middle" word-spacing="1">Leaf</text><text x="1039.8" y="536.9" font-size="27.5" fill="#000" text-anchor="middle" word-spacing="1">Climbing</text><text x="1039.8" y="567.5" font-size="27.5" fill="#000" text-anchor="middle" word-spacing="1">Wall</text><text x="516.7" y="454.8" font-size="27.5" fill="#000" text-anchor="middle" word-spacing="1">Curved Overhead</text><text x="516.7" y="485.8" font-size="27.5" fill="#000" text-anchor="middle" word-spacing="1">Swinging Ring</text><text x="516.7" y="515.8" font-size="27.5" fill="#000" text-anchor="middle" word-spacing="1">Ladder</text><text x="562.7" y="563.3" font-size="27.5" fill="#000" text-anchor="middle" word-spacing="1">3 Wheel</text><text x="562.7" y="594.2" font-size="27.5" fill="#000" text-anchor="middle" word-spacing="1">Overhead</text><text x="562.7" y="624.8" font-size="27.5" fill="#000" text-anchor="middle" word-spacing="1">Spinner</text><text x="1205.0" y="567.2" font-size="27.5" fill="#000" text-anchor="middle" word-spacing="1">Saddle</text><text x="1205.0" y="596.7" font-size="27.5" fill="#000" text-anchor="middle" word-spacing="1">Slide</text><text x="771.0" y="637.0" font-size="27.5" fill="#000" text-anchor="middle" word-spacing="1">Fireman</text><text x="771.0" y="667.6" font-size="27.5" fill="#000" text-anchor="middle" word-spacing="1">Pole</text><text x="985.6" y="667.5" font-size="27.5" fill="#000" text-anchor="middle" word-spacing="1">Overhead</text><text x="985.6" y="698.5" font-size="27.5" fill="#000" text-anchor="middle" word-spacing="1">Parallel Bar</text><text x="985.6" y="729.4" font-size="27.5" fill="#000" text-anchor="middle" word-spacing="1">Climber</text><text x="544.0" y="724.3" font-size="27.5" fill="#000" text-anchor="middle" word-spacing="1">Curved</text><text x="544.0" y="755.6" font-size="27.5" fill="#000" text-anchor="middle" word-spacing="1">Panel</text><text x="544.0" y="786.6" font-size="27.5" fill="#000" text-anchor="middle" word-spacing="1">Climber</text><text x="875.2" y="730.9" font-size="27.5" fill="#000" text-anchor="middle" word-spacing="1">Net</text><text x="875.2" y="761.4" font-size="27.5" fill="#000" text-anchor="middle" word-spacing="1">Climber</text><text x="686.0" y="815.2" font-size="27.5" fill="#000" text-anchor="middle" word-spacing="1">PE Climber</text><text x="686.0" y="846.2" font-size="27.5" fill="#000" text-anchor="middle" word-spacing="1">Attachment</text><text x="912.2" y="854.0" font-size="27.5" fill="#000" text-anchor="middle" word-spacing="1">Vertical</text><text x="912.2" y="883.9" font-size="27.5" fill="#000" text-anchor="middle" word-spacing="1">Horizon</text><text x="912.2" y="915.2" font-size="27.5" fill="#000" text-anchor="middle" word-spacing="1">Climber</text></svg>
</body></html>
